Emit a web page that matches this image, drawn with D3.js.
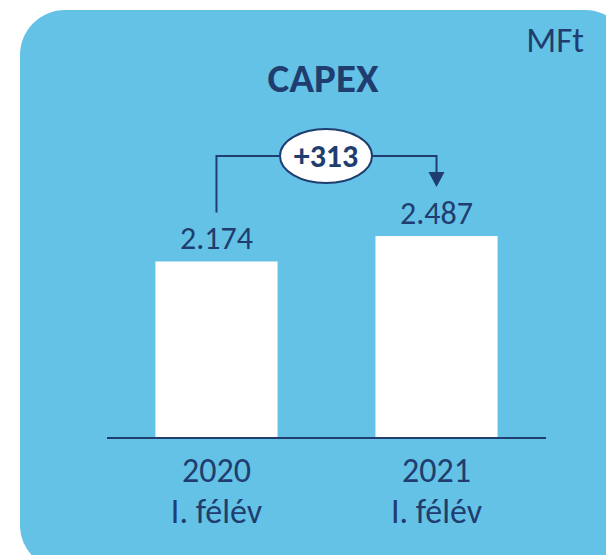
<!DOCTYPE html>
<html>
<head>
<meta charset="utf-8">
<script src="https://cdn.jsdelivr.net/npm/d3@7"></script>
<style>
  body { margin: 0; background: #ffffff; }
  svg text { font-family: Carlito, Lato, "Liberation Sans", sans-serif; fill: #1f3d6e; }
</style>
</head>
<body>
<div id="chart"></div>
<script>
const categories = ['2020', '2021'];
const subLabels = ['I. félév', 'I. félév'];
const values = [2174, 2487];
const valueLabels = ['2.174', '2.487'];
const deltaLabel = '+313';

const width = 606, height = 555;
const dark = '#1f3d6e';

const svg = d3.select('#chart').append('svg')
    .attr('width', width)
    .attr('height', height);

// panel background
svg.append('rect')
    .attr('x', 20).attr('y', 10)
    .attr('width', 610).attr('height', 560)
    .attr('rx', 45).attr('ry', 45)
    .attr('fill', '#64c2e7');

const margin = { left: 107, right: 60 };
const baseY = 438;

const xScale = d3.scaleBand()
    .domain(categories)
    .range([margin.left, width - margin.right])
    .paddingInner(0.445)
    .paddingOuter(0.22);

const yScale = d3.scaleLinear()
    .domain([0, 2500])
    .range([baseY, 235]);

const cx = i => xScale(categories[i]) + xScale.bandwidth() / 2;

// bars
svg.selectAll('.bar')
    .data(values)
    .join('rect')
    .attr('class', 'bar')
    .attr('x', (d, i) => xScale(categories[i]))
    .attr('width', xScale.bandwidth())
    .attr('y', d => yScale(d))
    .attr('height', d => baseY - yScale(d))
    .attr('fill', '#ffffff');

// x axis
const xAxis = d3.axisBottom(xScale).tickSize(0).tickFormat('');
svg.append('g')
    .attr('transform', `translate(0,${baseY})`)
    .call(xAxis)
    .call(g => g.select('.domain').attr('stroke', dark).attr('stroke-width', 2)
        .attr('d', `M${margin.left},0H${width - margin.right}`));

// category labels
svg.selectAll('.cat')
    .data(categories)
    .join('text')
    .attr('class', 'cat')
    .attr('x', (d, i) => cx(i))
    .attr('y', 482)
    .attr('text-anchor', 'middle')
    .style('font-size', '34px')
    .text(d => d);

svg.selectAll('.sub')
    .data(subLabels)
    .join('text')
    .attr('class', 'sub')
    .attr('x', (d, i) => cx(i))
    .attr('y', 523)
    .attr('text-anchor', 'middle')
    .style('font-size', '34px')
    .text(d => d);

// value labels
svg.selectAll('.val')
    .data(values)
    .join('text')
    .attr('class', 'val')
    .attr('x', (d, i) => cx(i))
    .attr('y', d => yScale(d) - 12)
    .attr('text-anchor', 'middle')
    .style('font-size', '32px')
    .text((d, i) => valueLabels[i]);

// title + unit
svg.append('text')
    .attr('x', 323).attr('y', 92)
    .attr('text-anchor', 'middle')
    .style('font-size', '41px')
    .style('font-weight', 'bold')
    .text('CAPEX');

svg.append('text')
    .attr('x', 584).attr('y', 52)
    .attr('text-anchor', 'end')
    .style('font-size', '35px')
    .text('MFt');

// difference connector
const lineY = 156;
const x0 = cx(0), x1 = cx(1);
const ex = 326, erx = 46, ery = 27;
svg.append('path')
    .attr('d', `M${x0},${yScale(values[0]) - 49}V${lineY}H${x1}V${yScale(values[1]) - 64}`)
    .attr('fill', 'none')
    .attr('stroke', dark)
    .attr('stroke-width', 2);

svg.append('path')
    .attr('d', `M${x1 - 8},${yScale(values[1]) - 64}L${x1 + 8},${yScale(values[1]) - 64}L${x1},${yScale(values[1]) - 49}Z`)
    .attr('fill', dark);

svg.append('ellipse')
    .attr('cx', ex).attr('cy', lineY)
    .attr('rx', erx).attr('ry', ery)
    .attr('fill', '#ffffff')
    .attr('stroke', dark)
    .attr('stroke-width', 2);

svg.append('text')
    .attr('x', ex).attr('y', lineY + 11)
    .attr('text-anchor', 'middle')
    .style('font-size', '32px')
    .style('font-weight', 'bold')
    .text(deltaLabel);
</script>
</body>
</html>
